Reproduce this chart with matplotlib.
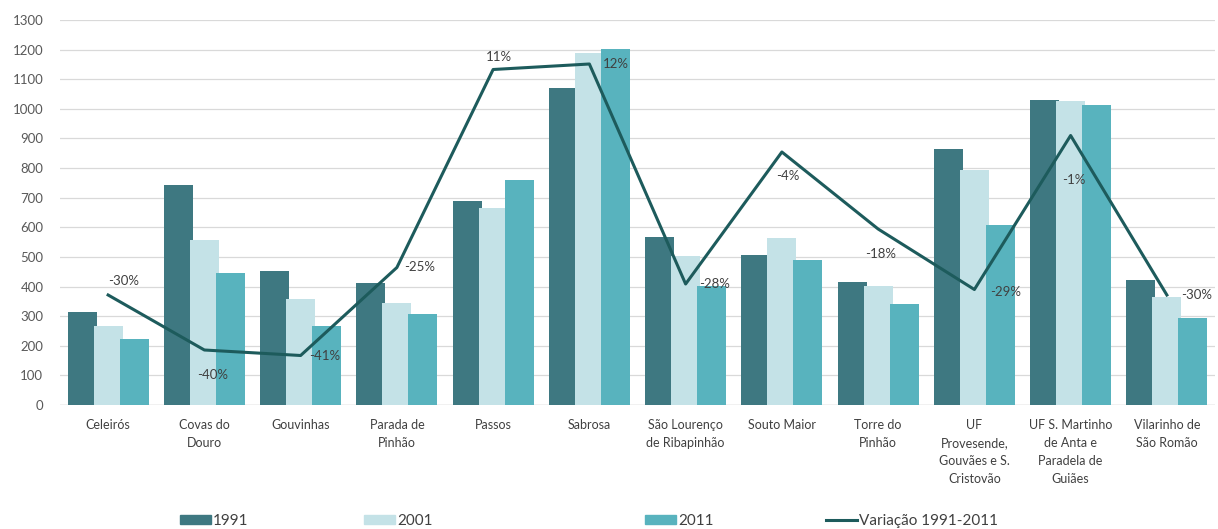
import matplotlib
matplotlib.use("Agg")
import matplotlib.pyplot as plt
import numpy as np
from matplotlib.patches import Patch
from matplotlib.lines import Line2D

plt.rcParams['font.family'] = ['Lato', 'DejaVu Sans']

# Freguesias and resident population per census
freguesias = ['Celeirós', 'Covas do\nDouro', 'Gouvinhas', 'Parada de\nPinhão', 'Passos',
              'Sabrosa', 'São Lourenço\nde Ribapinhão', 'Souto Maior', 'Torre do\nPinhão',
              'UF\nProvesende,\nGouvães e S.\nCristovão', 'UF S. Martinho\nde Anta e\nParadela de\nGuiães',
              'Vilarinho de\nSão Romão']
pop_1991 = [315, 743, 454, 413, 690, 1071, 567, 505, 417, 863, 1030, 423]
pop_2001 = [267, 557, 358, 346, 665, 1190, 504, 563, 403, 792, 1025, 363]
pop_2011 = [222, 445, 268, 307, 761, 1203, 403, 488, 342, 609, 1013, 293]
variacao = [-0.30, -0.40, -0.41, -0.25, 0.11, 0.12, -0.28, -0.04, -0.18, -0.29, -0.01, -0.30]

# where each percentage label sits relative to its point (points), and alignment
label_pos = [(11, 10, 'center'), (6, -18, 'center'), (6, 0, 'left'), (5, 0, 'left'),
             (4, 9, 'center'), (10, 0, 'left'), (10, 0, 'left'), (4, -17, 'center'),
             (2, -18, 'center'), (11, -2, 'left'), (2, -32, 'center'), (10, 0, 'left')]

c91 = '#3e7881'
c01 = '#c4e2e7'
c11 = '#58b3be'
cline = '#1d5b5c'
grid = '#d9d9d9'
txt = '#595959'

fig = plt.figure(figsize=(12.18, 5.29), dpi=100)
ax = fig.add_axes([60 / 1218, 124 / 529, 1155 / 1218, 385 / 529])

x = np.arange(len(freguesias))
step = 0.27
w = 0.30
ax.bar(x - step, pop_1991, w, color=c91, zorder=2)
ax.bar(x, pop_2001, w, color=c01, zorder=2)
ax.bar(x + step, pop_2011, w, color=c11, zorder=2)

ax.set_xlim(-0.5, len(freguesias) - 0.5)
ax.set_ylim(0, 1300)
ax.set_yticks(range(0, 1301, 100))
ax.yaxis.grid(True, color=grid, lw=0.9, zorder=0)
ax.set_axisbelow(True)
for s in ax.spines.values():
    s.set_visible(False)
ax.axhline(0, color='#cfcfcf', lw=1.0, zorder=1)
ax.set_xticks(x)
ax.set_xticklabels(freguesias, fontsize=9, color='#404040', linespacing=1.62)
ax.tick_params(axis='x', length=0, pad=10)
ax.tick_params(axis='y', length=0, pad=12, labelsize=9.5, labelcolor=txt)

# variation on a hidden secondary scale
ax2 = ax.twinx()
ax2.set_ylim(-0.5, 0.2)
ax2.axis('off')
ax2.plot(x, variacao, color=cline, lw=2.2, zorder=5)
for xi, v, (dx, dy, ha) in zip(x, variacao, label_pos):
    ax2.annotate(f'{v:.0%}', (xi, v), xytext=(dx, dy), textcoords='offset points',
                 ha=ha, va='center', fontsize=9.5, color='#404040', zorder=6)

# legend entries spread along the bottom
handles = [Patch(color=c91), Patch(color=c01), Patch(color=c11),
           Line2D([], [], color=cline, lw=2.2)]
names = ['1991', '2001', '2011', 'Variação 1991-2011']
xs = [180, 364, 645, 826]
for h, n, xp in zip(handles, names, xs):
    fig.legend([h], [n], loc='center left', bbox_to_anchor=(xp / 1218, 8 / 529),
               frameon=False, fontsize=11, handlelength=2.0, handleheight=0.6,
               handletextpad=0.15, borderaxespad=0, borderpad=0,
               labelcolor='#404040')

fig.savefig('out.png', dpi=100)
